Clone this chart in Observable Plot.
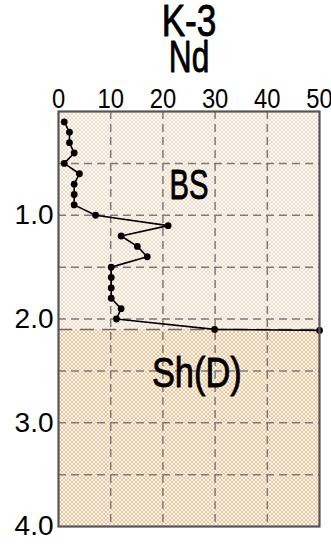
<!DOCTYPE html>
<html><head><meta charset="utf-8">
<script src="https://cdn.jsdelivr.net/npm/d3@7"></script>
<script src="https://cdn.jsdelivr.net/npm/@observablehq/plot@0.6"></script>
<style>body{margin:0;background:#fff}</style>
</head><body>
<svg width="0" height="0" style="position:absolute">
  <defs>
    <pattern id="patBS" width="4" height="4" patternUnits="userSpaceOnUse">
      <rect width="4" height="4" fill="#f2d0b4"/>
      <circle cx="0" cy="0" r="1.25" fill="#fff"/><circle cx="4" cy="0" r="1.25" fill="#fff"/>
      <circle cx="0" cy="4" r="1.25" fill="#fff"/><circle cx="4" cy="4" r="1.25" fill="#fff"/>
      <circle cx="2" cy="2" r="1.25" fill="#fff"/>
    </pattern>
    <pattern id="patSh" width="4" height="4" patternUnits="userSpaceOnUse">
      <rect width="4" height="4" fill="#f9b57c"/>
      <circle cx="0" cy="0" r="1.2" fill="#fff"/><circle cx="4" cy="0" r="1.2" fill="#fff"/>
      <circle cx="0" cy="4" r="1.2" fill="#fff"/><circle cx="4" cy="4" r="1.2" fill="#fff"/>
      <circle cx="2" cy="2" r="1.2" fill="#fff"/>
    </pattern>
  </defs>
</svg>
<div id="chart"></div>
<script>
// data
const depth = [0.10,0.20,0.30,0.40,0.50,0.60,0.70,0.80,0.90,1.00,1.10,1.20,1.30,1.40,1.50,1.60,1.70,1.80,1.90,2.00,2.10,2.11];
const nd    = [1.1, 2.1, 2.1, 3.0, 1.1, 4.0, 3.0, 3.0, 3.0, 7.1, 21.0,12.0,15.1,17.0,10.1,10.1,10.1,10.1,12.0,11.1,29.9,50.0];
const layerNames = ["BS", "Sh(D)"];
const layerTop = [0, 2.1];
const layerBottom = [2.1, 4.0];
const layerLabelX = [25, 26.5];
const layerLabelDepth = [0.71, 2.52];
const xTicks = [0, 10, 20, 30, 40, 50];
const yTicks = [1, 2, 3, 4];
const xGrid = [10, 20, 30, 40];
const yGrid = [0.5, 1.0, 1.5, 2.0, 2.5, 3.0, 3.5];
const titleLines = ["K-3", "Nd"];

const points = depth.map((d, i) => ({depth: d, nd: nd[i]}));
const layers = layerNames.map((name, i) => ({name, top: layerTop[i], bottom: layerBottom[i], lx: layerLabelX[i], ly: layerLabelDepth[i]}));
const gridStyle = {stroke: "#7a7a7a", strokeOpacity: 1, strokeWidth: 1.5, strokeDasharray: "8,5"};
const bigText = {fill: "#000", stroke: "#000", strokeWidth: 0.9};

const chart = Plot.plot({
  width: 331, height: 544,
  marginLeft: 58, marginRight: 12, marginTop: 111, marginBottom: 18,
  style: {fontFamily: "Liberation Sans, Arial, sans-serif", fontSize: "28px", color: "#000", background: "#fff"},
  x: {domain: [0, 50]},
  y: {domain: [0, 4], reverse: true},
  marks: [
    Plot.rect(layers.slice(0, 1), {x1: () => 0, x2: () => 50, y1: "top", y2: "bottom", fill: "url(#patBS)"}),
    Plot.rect(layers.slice(1, 2), {x1: () => 0, x2: () => 50, y1: "top", y2: "bottom", fill: "url(#patSh)"}),
    Plot.gridX(xGrid, gridStyle),
    Plot.gridY(yGrid, gridStyle),
    Plot.ruleY([layerTop[1]], {stroke: "#6a6a6a", strokeWidth: 1.5, strokeDasharray: "14,8"}),
    Plot.line(points, {x: "nd", y: "depth", stroke: "#000", strokeWidth: 1.6}),
    Plot.dot(points, {x: "nd", y: "depth", r: 3.4, fill: "#000"}),
    Plot.text(layers.slice(0, 1), {x: "lx", y: "ly", text: "name", fontSize: 43, ...bigText}),
    Plot.text(layers.slice(1, 2), {x: "lx", y: "ly", text: "name", fontSize: 43, ...bigText}),
    Plot.text([titleLines[0]], {frameAnchor: "top", dy: -107, text: d => d, fontSize: 44, ...bigText}),
    Plot.text([titleLines[1]], {frameAnchor: "top", dy: -71, text: d => d, fontSize: 44, ...bigText}),
    Plot.axisX(xTicks, {anchor: "top", tickSize: 0, tickPadding: 4, fontSize: 28, label: null}),
    Plot.axisY(yTicks, {anchor: "left", tickSize: 0, tickPadding: 5, fontSize: 28, tickFormat: d => d.toFixed(1), label: null}),
    Plot.frame({stroke: "#555", strokeWidth: 2.2})
  ]
});
document.getElementById("chart").appendChild(chart);

// narrow the glyphs horizontally around each text's anchor point
function squeeze(el, s, anchor) {
  const b = el.getBBox();
  const ax = anchor === "end" ? b.x + b.width : anchor === "start" ? b.x : b.x + b.width / 2;
  const t = el.getAttribute("transform") || "";
  el.setAttribute("transform", `${t} translate(${ax},0) scale(${s},1) translate(${-ax},0)`);
}
const textGroups = chart.querySelectorAll('g[aria-label="text"]');
const scales = [0.68, 0.8, 0.8, 0.72];
textGroups.forEach((g, i) => g.querySelectorAll("text").forEach(t => squeeze(t, scales[i] ?? 0.8, "middle")));
chart.querySelectorAll('g[aria-label="x-axis tick label"] text').forEach(t => squeeze(t, 0.85, "middle"));
</script>
</body></html>
